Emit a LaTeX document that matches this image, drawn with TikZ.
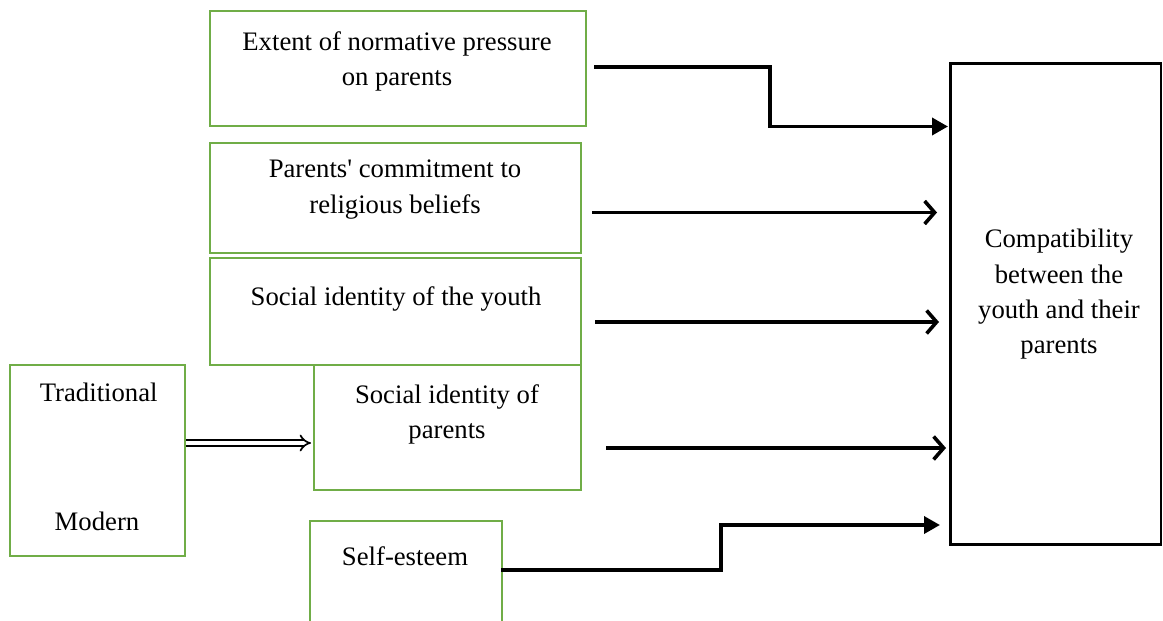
\documentclass[tikz,border=0pt]{standalone}
\usepackage{fontspec}
\setmainfont{Liberation Serif}
\usetikzlibrary{arrows.meta}
\definecolor{boxgreen}{RGB}{112,173,71}
\begin{document}
\begin{tikzpicture}[x=1pt,y=-1pt,
  gbox/.style={draw=boxgreen,line width=2.2pt,inner sep=0pt,rectangle},
  rbox/.style={draw=black,line width=2.4pt,inner sep=0pt,rectangle},
  txt/.style={font=\fontsize{26.7}{35.3}\selectfont,align=center,inner sep=0pt,anchor=north},
  conn/.style={line width=3.6pt},
  solidtip/.style={conn,-{Triangle[length=16pt,width=17pt]}},
  opentip/.style={conn,-{Straight Barb[length=10pt,width=23pt]}},
  dblarrow/.style={double,double distance=4pt,line width=1.7pt,-{Implies}}]
\useasboundingbox (0,0) rectangle (1163,621);
% boxes
\node[gbox,minimum width=376pt,minimum height=115pt] (b1) at (398,68.5) {};
\node[gbox,minimum width=371pt,minimum height=110pt] (b2) at (395.5,198) {};
\node[gbox,minimum width=371pt,minimum height=107pt] (b3) at (395.5,311.5) {};
\node[gbox,minimum width=175pt,minimum height=191pt] (b4) at (97.5,460.5) {};
\node[gbox,minimum width=267pt,minimum height=125pt] (b5) at (447.5,427.5) {};
\node[gbox,minimum width=192pt,minimum height=103pt] (b6) at (406,572.5) {};
\node[rbox,minimum width=210.7pt,minimum height=481.3pt] (R) at (1055.85,304) {};
% texts
\node[txt] (t1) at (397,31) {Extent of normative pressure\\on parents};
\node[txt] (t2) at (395,160) {Parents\textquotesingle{} commitment to\\religious beliefs};
\node[txt] (t3) at (396,286.8) {Social identity of the youth};
\node[txt] (t4a) at (98.7,382.5) {Traditional};
\node[txt,anchor=base] (t4b) at (97,530) {Modern};
\node[txt] (t5) at (447,384.5) {Social identity of\\parents};
\node[txt,anchor=base] (t6) at (405,565.7) {Self-esteem};
\node[txt] (tR) at (1059,229) {Compatibility\\between the\\youth and their\\parents};
% connector end points
\coordinate (s1) at (594,67);
\coordinate (e1) at (948,126.5);
\coordinate (s2) at (592,212.5);
\coordinate (e2) at (937,212.5);
\coordinate (s3) at (595,322);
\coordinate (e3) at (939,322);
\coordinate (s4) at (606,448);
\coordinate (e4) at (946,448);
\coordinate (s5) at (501,570);
\coordinate (e5) at (940,525);
\coordinate (sd) at (186,443);
\coordinate (ed) at (311,443);
% connectors
\draw[solidtip] (s1) -- (770,67) -- (770,126.5) -- (e1);
\draw[opentip] (s2) -- (e2);
\draw[opentip] (s3) -- (e3);
\draw[opentip] (s4) -- (e4);
\draw[solidtip] (s5) -- (721,570) -- (721,525) -- (e5);
\draw[dblarrow] (sd) -- (ed);
\end{tikzpicture}
\end{document}
